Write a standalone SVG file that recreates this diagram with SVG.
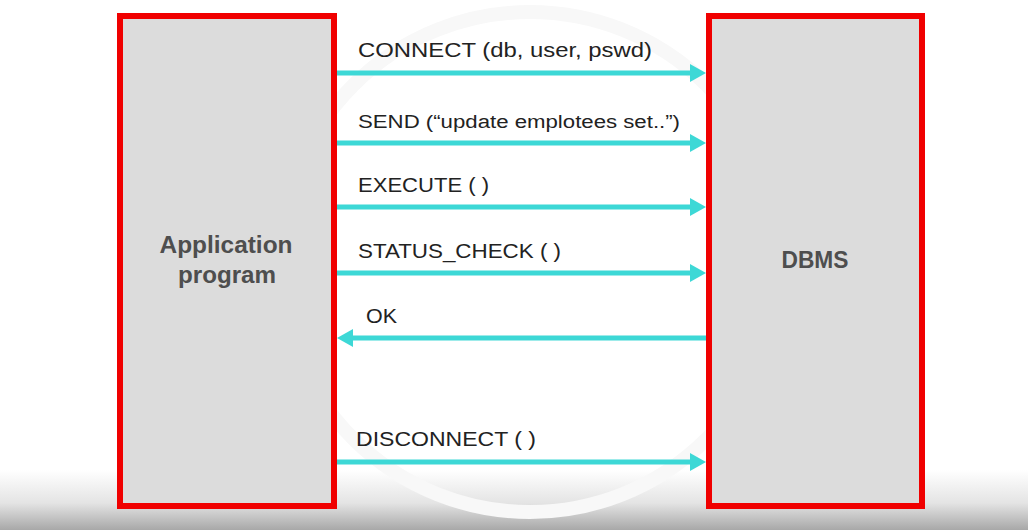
<svg xmlns="http://www.w3.org/2000/svg" width="1028" height="530" viewBox="0 0 1028 530">
  <style>
    .box { fill: #dcdcdc; stroke: #f00000; stroke-width: 6; }
    .title { font-family: "Liberation Sans", Arial, sans-serif; font-weight: bold; font-size: 23px; fill: #4e4e4e; text-anchor: middle; }
    .lbl { font-family: "Liberation Sans", Arial, sans-serif; font-size: 21px; fill: #222222; }
    .msg { stroke: #3dd8d6; stroke-width: 5; fill: none; marker-end: url(#head); }
  </style>
  <defs>
    <marker id="head" markerUnits="userSpaceOnUse" markerWidth="16" markerHeight="18" refX="1" refY="9" orient="auto">
      <path d="M0,0 L16,9 L0,18 Z" fill="#3dd8d6"/>
    </marker>
    <linearGradient id="bottomfade" x1="0" y1="0" x2="0" y2="1">
      <stop offset="0" stop-color="#ffffff"/>
      <stop offset="0.55" stop-color="#e4e4e4"/>
      <stop offset="1" stop-color="#a8a8a8"/>
    </linearGradient>
  </defs>
  <rect x="0" y="0" width="1028" height="530" fill="#ffffff"/>
  <rect x="0" y="470" width="1028" height="60" fill="url(#bottomfade)"/>
  <circle cx="530" cy="262" r="250" fill="none" stroke="#f8f8f8" stroke-width="14"/>

  <g id="app">
    <rect class="box" x="120" y="16" width="214" height="490"/>
    <text class="title" x="226" y="253" textLength="133" lengthAdjust="spacingAndGlyphs">Application</text>
    <text class="title" x="227" y="283" textLength="98" lengthAdjust="spacingAndGlyphs">program</text>
  </g>
  <g id="dbms">
    <rect class="box" x="709" y="16" width="213" height="490"/>
    <text class="title" x="815" y="268" textLength="67" lengthAdjust="spacingAndGlyphs">DBMS</text>
  </g>

  <g id="connectors">
    <line class="msg" x1="337" y1="73" x2="691" y2="73"/>
    <line class="msg" x1="337" y1="143" x2="691" y2="143"/>
    <line class="msg" x1="337" y1="207" x2="691" y2="207"/>
    <line class="msg" x1="337" y1="273" x2="691" y2="273"/>
    <line class="msg" x1="706" y1="338" x2="352" y2="338"/>
    <line class="msg" x1="337" y1="462" x2="691" y2="462"/>
    <text class="lbl" x="358" y="57" textLength="294" lengthAdjust="spacingAndGlyphs">CONNECT (db, user, pswd)</text>
    <text class="lbl" x="358" y="128" style="font-size:18px" textLength="322" lengthAdjust="spacingAndGlyphs">SEND (“update emplotees set..”)</text>
    <text class="lbl" x="358" y="192" textLength="131" lengthAdjust="spacingAndGlyphs">EXECUTE ( )</text>
    <text class="lbl" x="358" y="258" textLength="203" lengthAdjust="spacingAndGlyphs">STATUS_CHECK ( )</text>
    <text class="lbl" x="366" y="323" textLength="31" lengthAdjust="spacingAndGlyphs">OK</text>
    <text class="lbl" x="356" y="446" textLength="180" lengthAdjust="spacingAndGlyphs">DISCONNECT ( )</text>
  </g>
</svg>
